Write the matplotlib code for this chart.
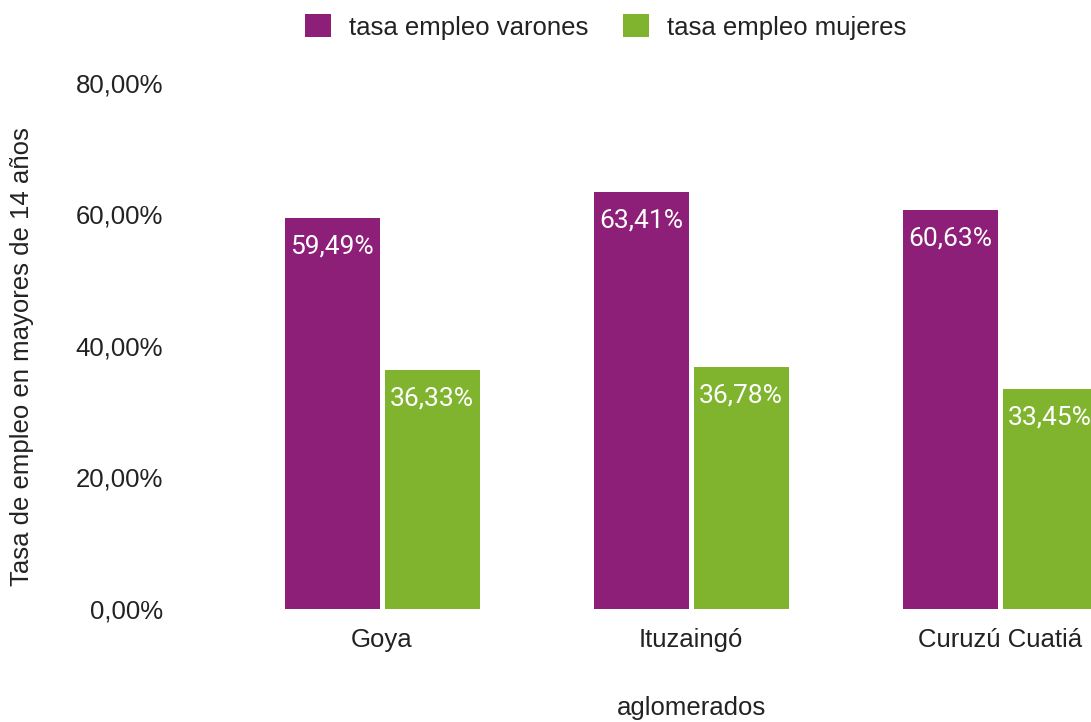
import matplotlib
matplotlib.use("Agg")
import matplotlib.pyplot as plt
import numpy as np

categories = ["Goya", "Ituzaingó", "Curuzú Cuatiá"]
varones = [59.49, 63.41, 60.63]
mujeres = [36.33, 36.78, 33.45]
series_names = ["tasa empleo varones", "tasa empleo mujeres"]
yticks = [0, 20, 40, 60, 80]
ytick_labels = ["0,00%", "20,00%", "40,00%", "60,00%", "80,00%"]

c_var = "#8e1f79"
c_muj = "#80b42f"
txt = "#222222"
font_main = ["Liberation Sans", "DejaVu Sans"]
font_lbl = ["Roboto", "DejaVu Sans"]
fs = 18.5

W, H = 1091, 722
fig = plt.figure(figsize=(W / 100, H / 100), dpi=100)
ax_left, ax_right = 170, 1091
ax_bottom, ax_top = 609, 83
ax = fig.add_axes([ax_left / W, (H - ax_bottom) / H, (ax_right - ax_left) / W, (ax_bottom - ax_top) / H])

spacing = 309.0
c0 = 382.0
x = np.arange(len(categories))
bw = 95 / spacing
off = 50 / spacing
ax.set_xlim((ax_left - c0) / spacing, (ax_right - c0) / spacing)
ax.set_ylim(0, 80)

b1 = ax.bar(x - off, varones, bw, color=c_var, label=series_names[0], clip_on=True)
b2 = ax.bar(x + off, mujeres, bw, color=c_muj, label=series_names[1], clip_on=True)

def fmt(v):
    return f"{v:.2f}".replace(".", ",") + "%"

for bars, vals in ((b1, varones), (b2, mujeres)):
    for r, v in zip(bars, vals):
        ax.annotate(fmt(v), (r.get_x() + r.get_width() / 2, v), xytext=(0, -20.5),
                    textcoords="offset points", ha="center", va="center",
                    color="white", fontsize=19, family=font_lbl, annotation_clip=False)

for s in ax.spines.values():
    s.set_visible(False)
ax.set_yticks(yticks)
ax.set_yticklabels(ytick_labels, family=font_main, fontsize=fs, color=txt)
ax.set_xticks(x)
ax.set_xticklabels(categories, family=font_main, fontsize=fs, color=txt)
ax.tick_params(axis="both", length=0)
ax.tick_params(axis="y", pad=5)
ax.tick_params(axis="x", pad=14)

fig.text(22 / W, 1 - 357 / H, "Tasa de empleo en mayores de 14 años", rotation=90,
         ha="center", va="center", fontsize=fs, family=font_main, color=txt)
fig.text(691 / W, 1 - 708 / H, "aglomerados", ha="center", va="center",
         fontsize=fs, family=font_main, color=txt)

leg = fig.legend(handles=[b1, b2], labels=series_names, loc="center",
                 bbox_to_anchor=(606 / W, 1 - 27 / H), ncol=2, frameon=False,
                 prop={"family": font_main, "size": fs}, handlelength=1.0,
                 handleheight=1.0, handletextpad=0.7, columnspacing=1.36)
for t in leg.get_texts():
    t.set_color(txt)

fig.savefig("out.png", dpi=100)
